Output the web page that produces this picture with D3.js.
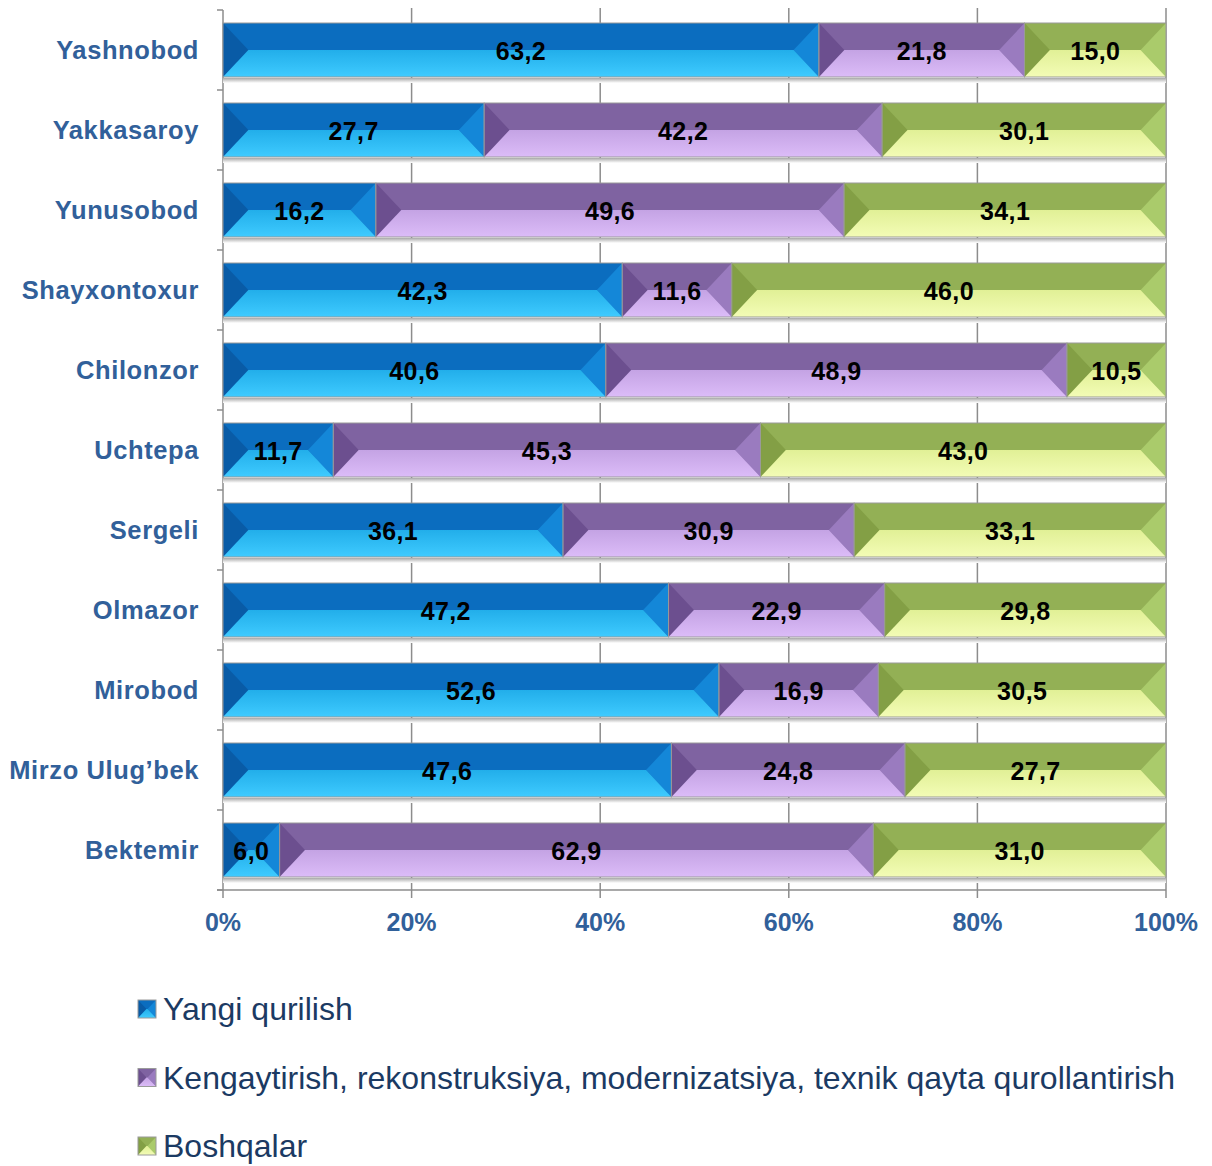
<!DOCTYPE html>
<html>
<head>
<meta charset="utf-8">
<script src="https://cdn.jsdelivr.net/npm/d3@7"></script>
<style>
  body { margin: 0; background: #fff; }
  svg { display: block; font-family: "Liberation Sans", Arial, sans-serif; }
</style>
</head>
<body>
<div class="chart"></div>
<script>
const districts = ['Yashnobod', 'Yakkasaroy', 'Yunusobod', 'Shayxontoxur', 'Chilonzor', 'Uchtepa',
  'Sergeli', 'Olmazor', 'Mirobod', 'Mirzo Ulug’bek', 'Bektemir'];
const yangi = [63.2, 27.7, 16.2, 42.3, 40.6, 11.7, 36.1, 47.2, 52.6, 47.6, 6.0];
const kengaytirish = [21.8, 42.2, 49.6, 11.6, 48.9, 45.3, 30.9, 22.9, 16.9, 24.8, 62.9];
const boshqalar = [15.0, 30.1, 34.1, 46.0, 10.5, 43.0, 33.1, 29.8, 30.5, 27.7, 31.0];
const seriesNames = ['Yangi qurilish',
  'Kengaytirish, rekonstruksiya, modernizatsiya, texnik qayta qurollantirish',
  'Boshqalar'];
const xTicks = [0, 0.2, 0.4, 0.6, 0.8, 1];

// bevel shades per series: top, left, right, face gradient (from, to)
const shades = [
  { top: '#0b6dbf', left: '#095ba6', right: '#1487d8', f0: '#22aeea', f1: '#3fcbff' },
  { top: '#7f63a1', left: '#6c4f8f', right: '#9a7bbf', f0: '#c4a3e4', f1: '#dcbcf8' },
  { top: '#93b055', left: '#839f45', right: '#aacb6b', f0: '#e1f096', f1: '#f3fcb6' },
];

const width = 1212;
const height = 1166;
const margin = { top: 10, right: 46, left: 223 };
const plotBottom = 890;

const svg = d3.select('.chart').append('svg')
  .attr('width', width)
  .attr('height', height);

const defs = svg.append('defs');
shades.forEach((s, i) => {
  const g = defs.append('linearGradient')
    .attr('id', `face${i}`)
    .attr('x1', 0).attr('y1', 0).attr('x2', 0).attr('y2', 1);
  g.append('stop').attr('offset', '0%').attr('stop-color', s.f0);
  g.append('stop').attr('offset', '100%').attr('stop-color', s.f1);
});
const shadow = defs.append('linearGradient')
  .attr('id', 'shadow').attr('x1', 0).attr('y1', 0).attr('x2', 0).attr('y2', 1);
shadow.append('stop').attr('offset', '0%').attr('stop-color', '#a8a8a8');
shadow.append('stop').attr('offset', '100%').attr('stop-color', '#ffffff');

const x = d3.scaleLinear().domain([0, 1]).range([margin.left, width - margin.right]);
const y = d3.scaleBand().domain(districts).range([margin.top, plotBottom])
  .paddingInner(0.325).paddingOuter(0.1625);

// rows -> stacked, normalised to 100%
const rows = districts.map((name, i) => {
  const vals = [yangi[i], kengaytirish[i], boshqalar[i]];
  const total = d3.sum(vals);
  let acc = 0;
  return vals.map((v, k) => {
    const seg = { name, k, v, x0: acc / total, x1: (acc + v) / total };
    acc += v;
    return seg;
  });
});

// gridlines
svg.append('g')
  .selectAll('line')
  .data(xTicks.slice(1))
  .enter()
  .append('line')
  .attr('x1', (d) => x(d)).attr('x2', (d) => x(d))
  .attr('y1', margin.top - 2).attr('y2', plotBottom)
  .attr('stroke', '#8c8c8c')
  .attr('stroke-width', 1.5);

// left axis line + ticks between bands
const axisG = svg.append('g').attr('stroke', '#8c8c8c').attr('stroke-width', 1.5);
axisG.append('line')
  .attr('x1', x(0)).attr('x2', x(0))
  .attr('y1', margin.top).attr('y2', plotBottom);
axisG.selectAll('.ytick')
  .data(d3.range(districts.length + 1))
  .enter()
  .append('line')
  .attr('x1', x(0) - 6).attr('x2', x(0))
  .attr('y1', (i) => margin.top + i * y.step())
  .attr('y2', (i) => margin.top + i * y.step());
axisG.append('line')
  .attr('x1', x(0) - 6).attr('x2', x(1))
  .attr('y1', plotBottom).attr('y2', plotBottom);
axisG.selectAll('.xtick')
  .data(xTicks)
  .enter()
  .append('line')
  .attr('x1', (d) => x(d)).attr('x2', (d) => x(d))
  .attr('y1', plotBottom).attr('y2', plotBottom + 8);

// draws one bevelled box
const bevel = (g, x0, x1, y0, h, s, i) => {
  const y1 = y0 + h;
  const b = Math.min(h * 0.47, (x1 - x0) / 2);
  const ym = y0 + h / 2;
  g.append('rect')
    .attr('x', x0).attr('y', y0).attr('width', x1 - x0).attr('height', h)
    .attr('fill', s.top);
  g.append('polygon')
    .attr('points', [[x0, y0], [x0 + b, ym], [x0, y1]].join(' '))
    .attr('fill', s.left);
  g.append('polygon')
    .attr('points', [[x1, y0], [x1 - b, ym], [x1, y1]].join(' '))
    .attr('fill', s.right);
  g.append('polygon')
    .attr('points', [[x0, y1], [x0 + b, ym], [x1 - b, ym], [x1, y1]].join(' '))
    .attr('fill', `url(#face${i})`);
  g.append('rect')
    .attr('x', x0).attr('y', y0).attr('width', x1 - x0).attr('height', h)
    .attr('fill', 'none')
    .attr('stroke', '#9a9a9a')
    .attr('stroke-width', 1);
};

const bars = svg.append('g');
rows.forEach((segs) => {
  const name = segs[0].name;
  const y0 = y(name);
  const h = y.bandwidth();
  bars.append('rect')
    .attr('x', x(0)).attr('y', y0 + h + 1)
    .attr('width', x(1) - x(0)).attr('height', 5)
    .attr('fill', 'url(#shadow)');
  segs.forEach((d) => {
    bevel(bars.append('g'), x(d.x0), x(d.x1), y0, h, shades[d.k], d.k);
  });
});

// value labels
svg.append('g')
  .selectAll('text')
  .data(rows.flat())
  .enter()
  .append('text')
  .attr('x', (d) => (x(d.x0) + x(d.x1)) / 2)
  .attr('y', (d) => y(d.name) + y.bandwidth() / 2 + 1)
  .attr('text-anchor', 'middle')
  .attr('dominant-baseline', 'central')
  .attr('font-size', 25)
  .attr('letter-spacing', 0.4)
  .attr('font-weight', 'bold')
  .attr('fill', '#000')
  .text((d) => d.v.toFixed(1).replace('.', ','));

// category labels
svg.append('g')
  .selectAll('text')
  .data(districts)
  .enter()
  .append('text')
  .attr('x', 199)
  .attr('y', (d) => y(d) + y.bandwidth() / 2)
  .attr('text-anchor', 'end')
  .attr('dominant-baseline', 'central')
  .attr('font-size', 25.5)
  .attr('letter-spacing', 0.6)
  .attr('font-weight', 'bold')
  .attr('fill', '#31609a')
  .text((d) => d);

// x tick labels
svg.append('g')
  .selectAll('text')
  .data(xTicks)
  .enter()
  .append('text')
  .attr('x', (d) => x(d))
  .attr('y', 922)
  .attr('text-anchor', 'middle')
  .attr('dominant-baseline', 'central')
  .attr('font-size', 25)
  .attr('font-weight', 'bold')
  .attr('fill', '#31609a')
  .text((d) => `${Math.round(d * 100)}%`);

// legend
const legend = svg.append('g');
seriesNames.forEach((name, i) => {
  const cy = 1009 + i * 68.5;
  bevel(legend.append('g'), 138, 156, cy - 9, 18, shades[i], i);
  legend.append('text')
    .attr('x', 163)
    .attr('y', cy)
    .attr('dominant-baseline', 'central')
    .attr('font-size', 32)
    .attr('fill', '#1b3a63')
    .text(name);
});
</script>
</body>
</html>
